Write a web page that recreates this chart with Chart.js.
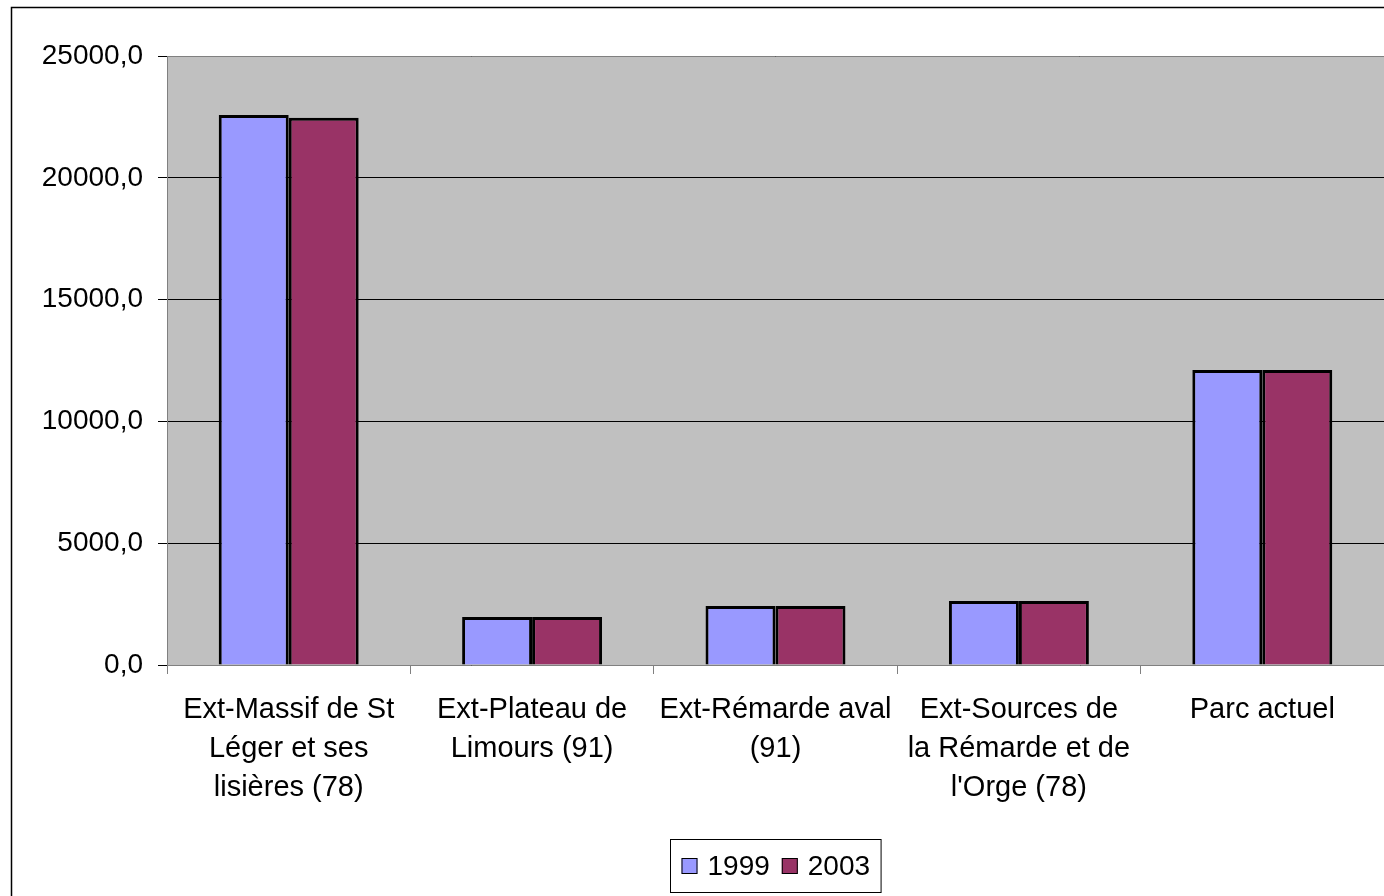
<!DOCTYPE html>
<html>
<head>
<meta charset="utf-8">
<script src="https://cdn.jsdelivr.net/npm/chart.js@4/dist/chart.umd.min.js"></script>
<style>
  html, body { margin: 0; padding: 0; background: #fff; }
  canvas { display: block; }
</style>
</head>
<body>
<canvas id="myChart" width="1384" height="896"></canvas>
<script>
// data
var categories = [
    ['Ext-Massif de St', 'Léger et ses', 'lisières (78)'],
    ['Ext-Plateau de', 'Limours (91)'],
    ['Ext-Rémarde aval', '(91)'],
    ['Ext-Sources de', 'la Rémarde et de', "l'Orge (78)"],
    ['Parc actuel']
];
var values1999 = [22580, 1970, 2420, 2630, 12110];
var values2003 = [22470, 1970, 2420, 2630, 12110];
var seriesNames = ['1999', '2003'];
var yTicks = [0, 5000, 10000, 15000, 20000, 25000];

var fill = ['#9999FF', '#993366'];
var font = 'Liberation Sans, Arial, sans-serif';

//frame, grey plot area and the boxed legend
var decor = {
    id: 'decor',
    beforeDraw: function(chart){
        var c = chart.ctx, a = chart.chartArea;
        c.save();
        c.fillStyle = '#fff';
        c.fillRect(0, 0, chart.width, chart.height);
        c.strokeStyle = '#000';
        c.lineWidth = 1.5;
        c.strokeRect(11.5, 7.5, chart.width + 20, chart.height + 20);
        c.fillStyle = '#C0C0C0';
        c.fillRect(a.left, a.top, a.right - a.left, a.bottom - a.top);
        c.restore();
    },
    afterDraw: function(chart){
        var c = chart.ctx, a = chart.chartArea;
        c.save();
        c.strokeStyle = '#808080';
        c.lineWidth = 1;
        c.beginPath();
        c.moveTo(a.left, a.top + 0.5);
        c.lineTo(a.right, a.top + 0.5);
        c.stroke();

        c.font = '28px ' + font;
        c.textBaseline = 'middle';
        var sq = 16, gap = 10, between = 12, padX = 11;
        var w = padX * 2;
        seriesNames.forEach(function(n, i){
            w += sq + gap + c.measureText(n).width + (i ? between : 0);
        });
        var cx = (a.left + a.right) / 2;
        var x = Math.round(cx - w / 2) + 0.5, y = 839.5, h = 53;
        c.strokeStyle = '#000';
        c.strokeRect(x, y, w, h);
        var px = x + padX, my = y + h / 2;
        seriesNames.forEach(function(n, i){
            if (i) px += between;
            c.fillStyle = fill[i];
            c.fillRect(px, my - sq / 2, sq, sq);
            c.strokeRect(px + 0.5, my - sq / 2 + 0.5, sq - 1, sq - 1);
            px += sq + gap;
            c.fillStyle = '#000';
            c.fillText(n, px, my + 1);
            px += c.measureText(n).width;
        });
        c.restore();
    }
};

var ctx = document.getElementById('myChart').getContext('2d');
var data = {
    labels: categories,
    datasets: [{
        label: seriesNames[0],
        backgroundColor: fill[0],
        borderColor: '#000',
        borderWidth: 3,
        data: values1999
    },
    {
        label: seriesNames[1],
        backgroundColor: fill[1],
        borderColor: '#000',
        borderWidth: 3,
        data: values2003
    }]
};
var options = {
    responsive: false,
    animation: false,
    layout: {padding: {top: 56, left: 0, right: 0, bottom: 0}},
    datasets: {bar: {categoryPercentage: 0.575, barPercentage: 1}},
    plugins: {legend: {display: false}, tooltip: {enabled: false}},
    scales: {
        x: {
            afterFit: function(s){ s.height = 231; },
            border: {color: '#808080', width: 1},
            grid: {drawOnChartArea: false, tickLength: 9, tickColor: '#808080', offset: true},
            ticks: {color: '#000', padding: 16, font: {family: font, size: 29, lineHeight: 1.345}, maxRotation: 0, autoSkip: false}
        },
        y: {
            min: 0, max: 25000,
            afterFit: function(s){ s.width = 167; },
            afterBuildTicks: function(s){ s.ticks = yTicks.map(function(v){ return {value: v}; }); },
            border: {color: '#808080', width: 1},
            grid: {color: '#000', lineWidth: 1, tickLength: 9, tickColor: '#000',
                   drawOnChartArea: true},
            ticks: {color: '#000', padding: 15, font: {family: font, size: 28},
                    callback: function(v){ return v.toFixed(1).replace('.', ','); }}
        }
    }
};
var chart = new Chart(ctx, {type: 'bar', data: data, options: options, plugins: [decor]});
</script>
</body>
</html>
